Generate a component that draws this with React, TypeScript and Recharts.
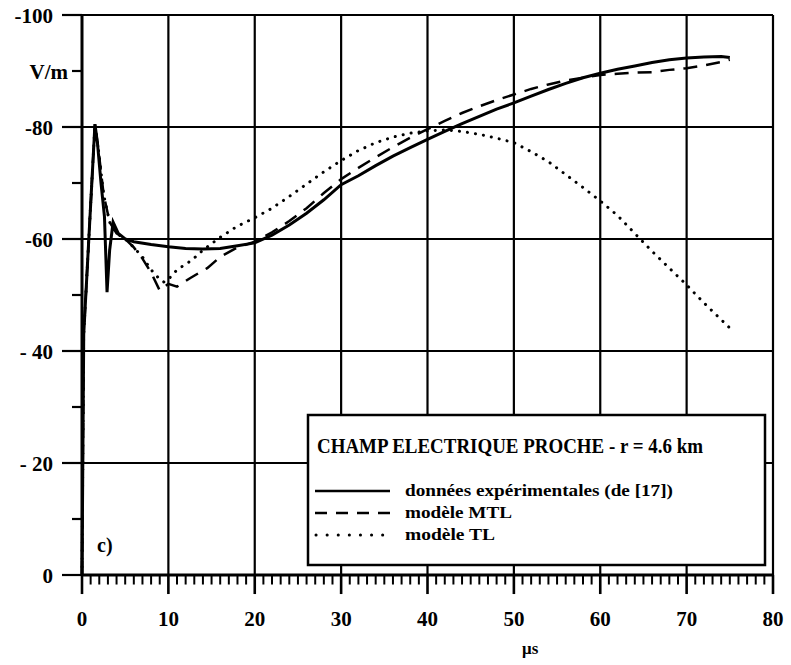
import { LineChart, Line, XAxis, YAxis, ReferenceLine } from "recharts";

// Experimental data (solid), near field, r = 4.6 km
const expTime = [0, 0.2, 1.5, 1.8, 2.2, 2.6, 2.9, 3.2, 3.6, 4.2, 5, 6, 8, 10, 12, 14, 16, 18, 20, 22, 24, 26, 28, 30, 32, 34, 36, 38, 40, 42, 44, 46, 48, 50, 52, 54, 56, 58, 60, 62, 64, 66, 68, 70, 72, 74, 75];
const expField = [0, -43, -80.5, -77, -70, -64, -50.5, -58, -63, -61, -60, -59.5, -59, -58.6, -58.3, -58.2, -58.3, -58.8, -59.3, -60.7, -62.5, -64.6, -67, -69.7, -71.3, -73.1, -74.8, -76.3, -77.8, -79.2, -80.6, -81.9, -83.2, -84.3, -85.5, -86.7, -87.8, -88.8, -89.6, -90.3, -90.9, -91.5, -92, -92.3, -92.5, -92.6, -92.4];

// MTL model (dashed)
const mtlTime = [0, 0.2, 1.5, 1.9, 2.5, 3.2, 4, 5, 6, 7, 8, 9, 10, 11, 12.5, 14.5, 16, 18, 20, 22, 24, 26, 28, 30, 32, 34, 36, 38, 40, 42, 44, 46, 48, 50, 52, 54, 56, 58, 60, 62, 64, 66, 68, 70, 72, 74, 75];
const mtlField = [0, -43, -80.5, -76, -68, -63, -61, -60, -58.5, -56.5, -54, -50.8, -52, -51.5, -53, -54.8, -56.8, -58.5, -59.5, -61.2, -63.2, -65.5, -68.2, -70.7, -72.7, -74.6, -76.4, -78.1, -79.6, -81.1, -82.5, -83.7, -84.8, -85.8, -86.8, -87.6, -88.3, -88.8, -89.3, -89.5, -89.7, -89.8, -90.2, -90.5, -91, -91.6, -92];

// TL model (dotted)
const tlTime = [0, 0.2, 1.5, 1.9, 2.5, 3.2, 4, 5, 6, 7, 8, 9, 9.5, 10, 11, 12.7, 14, 16, 18, 20, 22, 24, 26, 28, 30, 32, 34, 36, 38, 40, 42, 44, 46, 48, 50, 52, 54, 56, 58, 60, 62, 64, 66, 68, 70, 72, 74, 75];
const tlField = [0, -43, -80.5, -76, -68, -63, -61, -60, -58.5, -56.8, -54.5, -52.8, -52.3, -52.8, -54.5, -56.2, -58, -60.3, -62.3, -63.8, -65.5, -67.6, -69.8, -72, -74, -75.8, -77.2, -78.2, -78.9, -79.3, -79.5, -79.2, -78.7, -78, -77.2, -75.6, -73.8, -71.5, -69.2, -66.8, -64.2, -61, -57.8, -54.8, -51.8, -48.6, -45.6, -44.1];

// axes
const xMajorTicks = [0, 10, 20, 30, 40, 50, 60, 70, 80];
const xMinorTicks = Array.from({ length: 81 }, (_, i) => i).filter((t) => t % 10 !== 0);
const yTicks = [-100, -90, -80, -70, -60, -50, -40, -30, -20, -10, 0];
const yGridTicks = [-100, -80, -60, -40, -20];
const yTickText: Record<number, string> = {
  [-100]: "-100",
  [-90]: "V/m",
  [-80]: "-80",
  [-60]: "-60",
  [-40]: "- 40",
  [-20]: "- 20",
  0: "0",
};

const legendTitle = "CHAMP ELECTRIQUE PROCHE - r = 4.6 km";
const legendNames = ["données expérimentales (de [17])", "modèle MTL", "modèle TL"];

const toPoints = (ts: number[], vs: number[]) => ts.map((t, i) => ({ t, v: vs[i] }));

const FONT = "'Liberation Serif', 'DejaVu Serif', serif";

const XTick = (props: any) => {
  const { x, y, payload } = props;
  return (
    <text x={x} y={y + 51} textAnchor="middle" fontSize={21} fontWeight="bold" fontFamily={FONT} fill="#000">
      {payload.value}
    </text>
  );
};

const YTick = (props: any) => {
  const { x, y, payload } = props;
  const v = payload.value;
  const major = v % 20 === 0;
  const label = yTickText[v];
  return (
    <g>
      <line x1={x - (major ? 20 : 10)} x2={x} y1={y} y2={y} stroke="#000" strokeWidth={2.2} />
      {label && (
        <text x={x - (major ? 29 : 14)} y={y + 8} textAnchor="end" fontSize={21} fontWeight="bold" fontFamily={FONT} fill="#000">
          {label}
        </text>
      )}
    </g>
  );
};

export default function App() {
  return (
    <div style={{ position: "absolute", left: 0, top: 0, width: 791, height: 665, background: "#fff" }}>
      <LineChart width={791} height={665} margin={{ top: 15, right: 18, left: 22, bottom: 60 }}>
        <XAxis
          dataKey="t"
          type="number"
          domain={[0, 80]}
          ticks={xMajorTicks}
          interval={0}
          tick={<XTick />}
          tickLine={false}
          tickSize={0}
          tickMargin={0}
          axisLine={{ stroke: "#000", strokeWidth: 3 }}
          height={30}
        />
        <YAxis
          type="number"
          domain={[-100, 0]}
          reversed
          ticks={yTicks}
          interval={0}
          tick={<YTick />}
          tickLine={false}
          tickSize={0}
          tickMargin={0}
          axisLine={{ stroke: "#000", strokeWidth: 3 }}
          width={60}
        />
        {xMajorTicks.slice(1).map((t) => (
          <ReferenceLine key={"x" + t} x={t} stroke="#000" strokeWidth={2.2} />
        ))}
        {yGridTicks.map((v) => (
          <ReferenceLine key={"y" + v} y={v} stroke="#000" strokeWidth={2.2} />
        ))}
        {/* small ticks under the time axis */}
        {xMinorTicks.map((t) => (
          <ReferenceLine
            key={"m" + t}
            segment={[{ x: t, y: 0 }, { x: t, y: 1.7 }]}
            stroke="#000"
            strokeWidth={2}
            ifOverflow="visible"
          />
        ))}
        {xMajorTicks.map((t) => (
          <ReferenceLine
            key={"M" + t}
            segment={[{ x: t, y: 0 }, { x: t, y: 3.4 }]}
            stroke="#000"
            strokeWidth={2.6}
            ifOverflow="visible"
          />
        ))}
        <Line
          data={toPoints(tlTime, tlField)}
          dataKey="v"
          type="linear"
          stroke="#000"
          strokeWidth={3}
          strokeDasharray="0.1 8"
          strokeLinecap="round"
          dot={false}
          isAnimationActive={false}
        />
        <Line
          data={toPoints(mtlTime, mtlField)}
          dataKey="v"
          type="linear"
          stroke="#000"
          strokeWidth={2.5}
          strokeDasharray="14 9"
          dot={false}
          isAnimationActive={false}
        />
        <Line
          data={toPoints(expTime, expField)}
          dataKey="v"
          type="linear"
          stroke="#000"
          strokeWidth={3}
          dot={false}
          isAnimationActive={false}
        />
      </LineChart>

      {/* legend box and free labels */}
      <svg width={791} height={665} style={{ position: "absolute", left: 0, top: 0, pointerEvents: "none" }}>
        <rect x={308} y={415} width={457} height={150} fill="#fff" stroke="#000" strokeWidth={2.5} />
        <text x={317} y={453} fontSize={20} fontWeight="bold" fontFamily={FONT} textLength={386} lengthAdjust="spacingAndGlyphs">
          {legendTitle}
        </text>
        <line x1={315} x2={390} y1={491} y2={491} stroke="#000" strokeWidth={2.5} />
        <line x1={315} x2={390} y1={513} y2={513} stroke="#000" strokeWidth={2.5} strokeDasharray="12 9" />
        <line x1={316} x2={390} y1={535} y2={535} stroke="#000" strokeWidth={3} strokeDasharray="0.1 11" strokeLinecap="round" />
        <text x={405} y={496} fontSize={17} fontWeight="bold" fontFamily={FONT} textLength={268} lengthAdjust="spacingAndGlyphs">
          {legendNames[0]}
        </text>
        <text x={405} y={518} fontSize={17} fontWeight="bold" fontFamily={FONT} textLength={107} lengthAdjust="spacingAndGlyphs">
          {legendNames[1]}
        </text>
        <text x={405} y={540} fontSize={17} fontWeight="bold" fontFamily={FONT} textLength={90} lengthAdjust="spacingAndGlyphs">
          {legendNames[2]}
        </text>
        <text x={97} y={552} fontSize={20} fontWeight="bold" fontFamily={FONT}>
          c)
        </text>
        <text x={522} y={654} fontSize={17} fontWeight="bold" fontFamily={FONT}>
          μs
        </text>
      </svg>
    </div>
  );
}
